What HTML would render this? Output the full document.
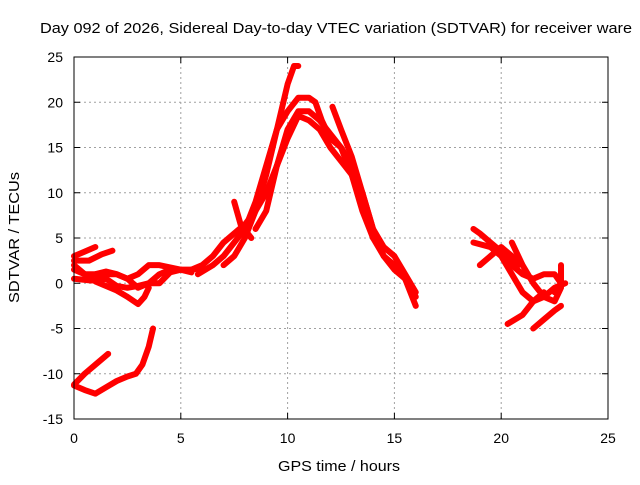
<!DOCTYPE html>
<html><head><meta charset="utf-8"><style>
body{margin:0;background:#fff}
svg text{font-family:"Liberation Sans",sans-serif;font-size:14px;fill:#000}
</style></head><body>
<svg id="chart" width="640" height="480" viewBox="0 0 640 480" xmlns="http://www.w3.org/2000/svg">
<text x="40" y="33" style="font-size:15px" textLength="592" lengthAdjust="spacingAndGlyphs">Day 092 of 2026, Sidereal Day-to-day VTEC variation (SDTVAR) for receiver ware</text>
<text x="278" y="471" style="font-size:15px" textLength="122" lengthAdjust="spacingAndGlyphs">GPS time / hours</text>
<text transform="translate(19,303) rotate(-90)" style="font-size:15px" textLength="131" lengthAdjust="spacingAndGlyphs">SDTVAR / TECUs</text>
<g id="grid"></g><g id="series"></g>
<rect x="74" y="57" width="534" height="362" fill="none" stroke="#000" stroke-width="1"/>
</svg>
<script>
const xTicks=[0,5,10,15,20,25];
const yTicks=[-15,-10,-5,0,5,10,15,20,25];
const track1=[[0,-11.3],[0.5,-11.8],[1,-12.2],[1.5,-11.5],[2,-10.8],[2.5,-10.3],[2.9,-10],[3.2,-9],[3.5,-7],[3.7,-5]];
const track2=[[0,-11.2],[0.5,-10],[1,-9],[1.6,-7.8]];
const track3=[[0,3],[0.5,3.5],[1,4]];
const track4=[[0,2.5],[0.7,2.5],[1.3,3.2],[1.8,3.6]];
const track5=[[0,1.5],[0.5,1],[1,1],[1.5,1.3],[2,1],[2.5,0.5],[3,-0.5],[3.5,0],[4,1],[4.5,1.5],[5,1.5],[5.5,1.2]];
const track6=[[0,2],[0.5,1],[1,0.2],[1.5,-0.3],[2,-0.8],[2.5,-1.5],[3,-2.3],[3.3,-1.5],[3.5,-0.5]];
const track7=[[0,0.5],[0.8,0.3],[1.5,0.5],[2,-0.3],[2.5,-0.5],[3,-0.3],[3.5,0],[4,0],[4.5,1.2],[5,1.5],[5.5,1.5],[6,1.7]];
const track8=[[1,1],[2,1],[2.5,0.5],[3,1],[3.5,2],[4,2],[5,1.5]];
const track9=[[5.5,1.5],[6,2],[6.5,3],[7,4.5],[7.5,5.5],[8,6.5],[8.5,8],[9,12],[9.5,17],[10,22],[10.3,24],[10.5,24]];
const track10=[[5.8,1],[6.5,2],[7,3],[7.5,4.5],[8,6],[8.5,9],[9,13],[9.5,17],[10,19],[10.5,20.5],[11,20.5],[11.3,20],[11.6,18],[12,16],[12.5,15],[13,13],[13.5,10],[14,6],[14.5,3],[15,1.5],[15.5,0.5],[16,-1.5]];
const track11=[[7,2],[7.5,3],[8,5],[8.5,8],[9,10],[9.5,13],[10,17],[10.5,19],[11,19],[11.5,18],[12,16.5],[12.5,15],[13,12],[13.5,8],[14,5],[14.5,3],[15,2],[15.5,0.5],[16,-2.5]];
const track12=[[8.5,6],[9,8],[9.5,13],[10,16],[10.5,18.5],[11,18],[11.5,17],[12,15],[12.5,13.5],[13,12],[13.5,9],[14,5]];
const track13=[[12.1,19.5],[12.5,17],[13,14],[13.5,10],[14,6],[14.5,4],[15,3],[15.5,1],[16,-1]];
const track14=[[7.5,9],[7.8,6.5],[8.3,5]];
const track15=[[18.7,6],[19,5.5],[19.5,4.5],[20,3.5],[20.5,2],[21,1],[21.5,0.5],[22,1],[22.5,1],[22.8,0]];
const track16=[[18.7,4.5],[19.5,4],[20,3],[20.5,1],[21,-1],[21.5,-2],[22,-1.5],[22.5,-0.5],[23,0]];
const track17=[[19,2],[19.5,3],[20,4],[20.5,3],[20.8,2]];
const track18=[[20.5,4.5],[21,2],[21.5,0],[22,-1.5],[22.5,-2],[22.8,-0.5]];
const track19=[[20.3,-4.5],[21,-3.5],[21.5,-2],[22,-1]];
const track20=[[21.5,-5],[22,-4],[22.5,-3],[22.8,-2.5]];
const track21=[[22.5,-1],[22.8,0],[22.8,2]];
const tracks=[track1,track2,track3,track4,track5,track6,track7,track8,track9,track10,track11,track12,track13,track14,track15,track16,track17,track18,track19,track20,track21];
const X0=74,X1=608,Y0=419,Y1=57;
function xs(v){return X0+(v-0)/(25-0)*(X1-X0);}
function ys(v){return Y0-(v+15)/(40)*(Y0-Y1);}
const NS="http://www.w3.org/2000/svg";
const grid=document.getElementById('grid');
xTicks.forEach(t=>{
  const x=xs(t);
  if(t>0&&t<25){const l=document.createElementNS(NS,'line');
  
  
  l.setAttribute('x1',x);l.setAttribute('x2',x);l.setAttribute('y1',Y1);l.setAttribute('y2',Y0);
  l.setAttribute('stroke','#a0a0a0');l.setAttribute('stroke-dasharray','2,3');grid.appendChild(l);}
  const tk=document.createElementNS(NS,'path');
  
  
  tk.setAttribute('d',`M${x},${Y0}v-6M${x},${Y1}v6`);tk.setAttribute('stroke','#000');grid.appendChild(tk);
  const tx=document.createElementNS(NS,'text');
  
  
  tx.setAttribute('x',x);tx.setAttribute('y',443);tx.setAttribute('text-anchor','middle');tx.textContent=t;grid.appendChild(tx);
});
yTicks.forEach(t=>{
  const y=ys(t);
  if(t>-15&&t<25){const l=document.createElementNS(NS,'line');
  
  
  l.setAttribute('x1',X0);l.setAttribute('x2',X1);l.setAttribute('y1',y);l.setAttribute('y2',y);
  l.setAttribute('stroke','#a0a0a0');l.setAttribute('stroke-dasharray','2,3');grid.appendChild(l);}
  const tk=document.createElementNS(NS,'path');
  
  
  tk.setAttribute('d',`M${X0},${y}h6M${X1},${y}h-6`);tk.setAttribute('stroke','#000');grid.appendChild(tk);
  const tx=document.createElementNS(NS,'text');
  
  
  tx.setAttribute('x',63);tx.setAttribute('y',y+5);tx.setAttribute('text-anchor','end');tx.textContent=t;grid.appendChild(tx);
});
const ser=document.getElementById('series');
tracks.forEach(tr=>{
  const p=document.createElementNS(NS,'polyline');
  
  
  p.setAttribute('points',tr.map(d=>xs(d[0])+','+ys(d[1])).join(' '));
  p.setAttribute('fill','none');p.setAttribute('stroke','#ff0000');p.setAttribute('stroke-width','6');
  p.setAttribute('stroke-linejoin','round');p.setAttribute('stroke-linecap','round');
  ser.appendChild(p);
});
</script>
</body></html>
